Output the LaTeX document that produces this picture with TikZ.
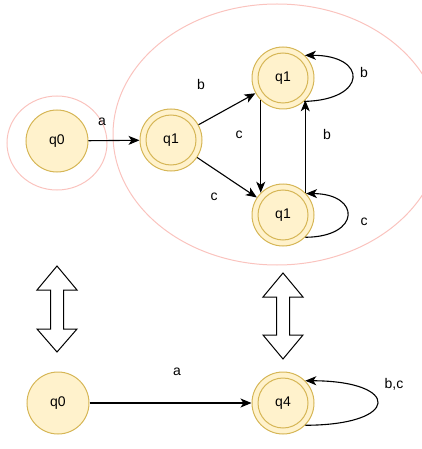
\documentclass[tikz,border=0pt]{standalone}
\usepackage{fontspec}
\setmainfont{Liberation Sans}
\usetikzlibrary{arrows.meta}
\definecolor{stfill}{HTML}{FFF2CC}
\definecolor{stdraw}{HTML}{D6B656}
\definecolor{pinkline}{RGB}{250,195,190}
\begin{document}
\begin{tikzpicture}[x=1pt,y=-1pt,
  font=\fontsize{14}{16}\selectfont,
  state/.style={circle,draw=stdraw,fill=stfill,line width=1pt,minimum size=62pt,inner sep=0pt},
  accept/.style={state,path picture={\draw[stdraw,line width=1pt] (path picture bounding box.center) circle (25pt);}},
  edge/.style={line width=1.1pt,-{Stealth[length=11pt,width=9pt,inset=3pt]}},
  lbl/.style={inner sep=0pt},
  group/.style={draw=pinkline,line width=1pt},
  dblarrow/.style={draw=black,fill=white,line width=1pt,line join=miter}]
\useasboundingbox (0,0) rectangle (421,449);
% groups
\draw[group] (57,143) ellipse [x radius=50,y radius=47];
\draw[group] (277,134.5) ellipse [x radius=164,y radius=130.5];
% states
\node[state] (a0) at (57,141) {q0};
\node[accept] (a1) at (171,140) {q1};
\node[accept] (t1) at (283,78) {q1};
\node[accept] (t2) at (283,215) {q1};
\node[state] (b0) at (58,403) {q0};
\node[accept] (b4) at (283,403) {q4};
% edges
\draw[edge] (a0) -- (a1);
\draw[edge] (a1) -- (t1);
\draw[edge] (a1) -- (t2);
\draw[edge] (t1.-135) -- (t2.135);
\draw[edge] (t2.45) -- (t1.-45);
\draw[edge] (t1.-48) .. controls (368,100) and (368,55) .. (t1.46);
\draw[edge] (t2.-45) .. controls (361,237) and (361,194) .. (t2.43);
\draw[edge] (b0) -- (b4);
\draw[edge] (b4.-45) .. controls (401,425) and (401,381) .. (b4.45);
% labels
\node[lbl] (la) at (102,122) {a};
\node[lbl] (lb1) at (201,84) {b};
\node[lbl] (lc1) at (214,197) {c};
\node[lbl] (lc2) at (239,135) {c};
\node[lbl] (lb2) at (327,134) {b};
\node[lbl] (lb3) at (364,72) {b};
\node[lbl] (lc3) at (364,222) {c};
\node[lbl] (la2) at (177,372) {a};
\node[lbl] (lbc) at (394,384) {b,c};
% double arrows
\draw[dblarrow] (57,266) -- (77,290) -- (63.5,290) -- (63.5,329) -- (77,329) -- (57,352)
  -- (37,329) -- (50.5,329) -- (50.5,290) -- (37,290) -- cycle;
\draw[dblarrow] (283,273) -- (303,297) -- (289.5,297) -- (289.5,335) -- (303,335) -- (283,359)
  -- (263,335) -- (276.5,335) -- (276.5,297) -- (263,297) -- cycle;
\end{tikzpicture}
\end{document}
